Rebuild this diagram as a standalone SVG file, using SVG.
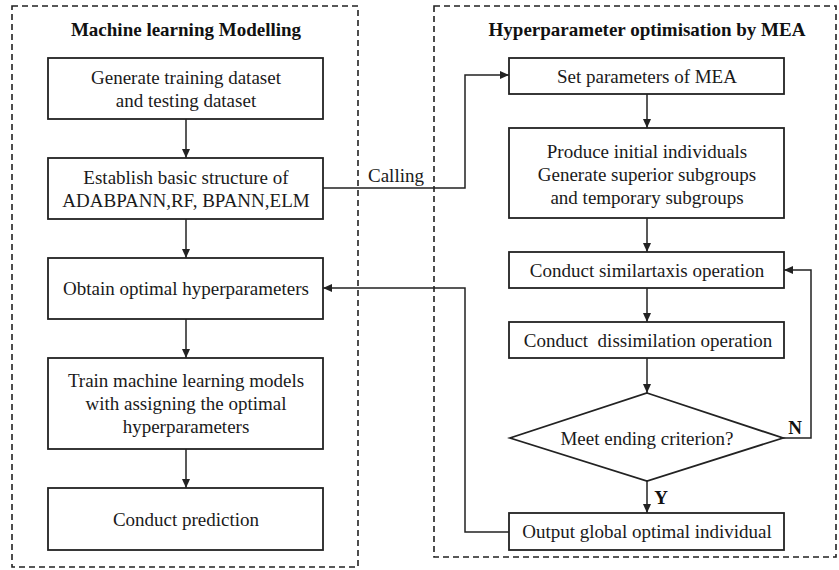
<svg xmlns="http://www.w3.org/2000/svg" width="839" height="570" viewBox="0 0 839 570">
<style>
.grp{fill:none;stroke:#222;stroke-width:1.6;stroke-dasharray:6,4}
.box{fill:#fff;stroke:#222;stroke-width:1.8}
.t{font-family:"Liberation Serif","Times New Roman",serif;font-size:19px;fill:#1a1a1a;text-anchor:middle;white-space:pre}
.h{font-family:"Liberation Serif","Times New Roman",serif;font-size:19px;font-weight:bold;fill:#111;text-anchor:middle}
.c{fill:none;stroke:#222;stroke-width:1.5;marker-end:url(#ah)}
</style>
<defs>
<marker id="ah" markerWidth="10" markerHeight="8" refX="9" refY="4" orient="auto" markerUnits="userSpaceOnUse">
<path d="M0,0 L9,4 L0,8 Z" fill="#222"/>
</marker>
</defs>
<rect class="grp" x="12" y="6" width="346" height="561"/>
<rect class="grp" x="434" y="6" width="402" height="551"/>
<text class="h" x="186" y="36">Machine learning Modelling</text>
<text class="h" x="647" y="36">Hyperparameter optimisation by MEA</text>

<g id="connectors">
<line class="c" x1="186" y1="119" x2="186" y2="158"/>
<line class="c" x1="186" y1="219" x2="186" y2="258"/>
<line class="c" x1="186" y1="319" x2="186" y2="358"/>
<line class="c" x1="186" y1="449" x2="186" y2="488"/>
<polyline class="c" points="323,188 465,188 465,75 509,75"/>
<text class="t" x="396" y="182">Calling</text>
<line class="c" x1="647" y1="94" x2="647" y2="128"/>
<line class="c" x1="647" y1="218" x2="647" y2="252"/>
<line class="c" x1="647" y1="288" x2="647" y2="322"/>
<line class="c" x1="647" y1="358" x2="647" y2="393"/>
<line class="c" x1="647" y1="481" x2="647" y2="513"/>
<text class="h" x="661" y="504">Y</text>
<polyline class="c" points="783,438 811,438 811,270 784,270"/>
<text class="h" x="795" y="434">N</text>
<polyline class="c" points="509,532 465,532 465,288 323,288"/>
</g>

<g id="n1"><rect class="box" x="48" y="58" width="275" height="61"/>
<text class="t" x="186" y="84">Generate training dataset</text>
<text class="t" x="186" y="107">and testing dataset</text></g>
<g id="n2"><rect class="box" x="48" y="158" width="275" height="61"/>
<text class="t" x="186" y="184">Establish basic structure of</text>
<text class="t" x="186" y="207">ADABPANN,RF, BPANN,ELM</text></g>
<g id="n3"><rect class="box" x="48" y="258" width="275" height="61"/>
<text class="t" x="186" y="295">Obtain optimal hyperparameters</text></g>
<g id="n4"><rect class="box" x="48" y="358" width="275" height="91"/>
<text class="t" x="186" y="387">Train machine learning models</text>
<text class="t" x="186" y="410">with assigning the optimal</text>
<text class="t" x="186" y="433">hyperparameters</text></g>
<g id="n5"><rect class="box" x="48" y="488" width="275" height="62"/>
<text class="t" x="186" y="526">Conduct prediction</text></g>

<g id="m1"><rect class="box" x="509" y="58" width="275" height="36"/>
<text class="t" x="647" y="83">Set parameters of MEA</text></g>
<g id="m2"><rect class="box" x="509" y="128" width="275" height="90"/>
<text class="t" x="647" y="158">Produce initial individuals</text>
<text class="t" x="647" y="181">Generate superior subgroups</text>
<text class="t" x="647" y="204">and temporary subgroups</text></g>
<g id="m3"><rect class="box" x="509" y="252" width="275" height="36"/>
<text class="t" x="647" y="277">Conduct similartaxis operation</text></g>
<g id="m4"><rect class="box" x="509" y="322" width="275" height="36"/>
<text class="t" x="648" y="347">Conduct  dissimilation operation</text></g>
<g id="m5"><polygon class="box" points="647,393 783,438 647,481 510,438"/>
<text class="t" x="647" y="445">Meet ending criterion?</text></g>
<g id="m6"><rect class="box" x="509" y="513" width="275" height="37"/>
<text class="t" x="647" y="538">Output global optimal individual</text></g>
</svg>
